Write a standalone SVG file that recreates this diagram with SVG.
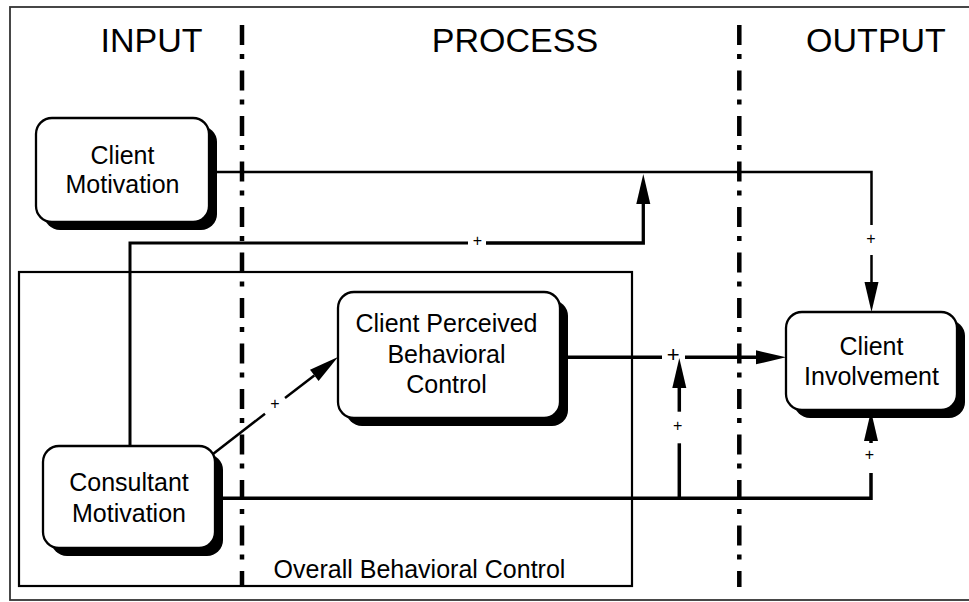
<svg xmlns="http://www.w3.org/2000/svg" width="969" height="602" viewBox="0 0 969 602">
<style>
text{font-family:"Liberation Sans",Arial,sans-serif;fill:#000}
.hd{font-size:34px;text-anchor:middle}
.nt{font-size:25px;text-anchor:middle}
.pl{font-size:16px;text-anchor:middle}
.box{fill:#fff;stroke:#000;stroke-width:2.3}
.shd{fill:#000}
.sep{stroke:#000;stroke-width:4.5;stroke-dasharray:20 9 5 11.5;fill:none}
.ln{fill:none;stroke:#000;stroke-linecap:butt;stroke-linejoin:miter}
</style>
<defs>
<marker id="ah" markerUnits="userSpaceOnUse" markerWidth="30" markerHeight="14" viewBox="0 0 30 14" refX="0" refY="7" orient="auto" overflow="visible">
<path d="M0,0 L30,7 L0,14 z" fill="#000"/>
</marker>
</defs>
<rect x="0" y="0" width="969" height="602" fill="#fff"/>
<rect x="10" y="7" width="975" height="593" fill="none" stroke="#333" stroke-width="1.8"/>
<g id="headings">
<text class="hd" x="151.5" y="52">INPUT</text>
<text class="hd" x="515" y="52">PROCESS</text>
<text class="hd" x="876" y="52">OUTPUT</text>
</g>
<g id="separators">
<line class="sep" x1="242" y1="25" x2="242" y2="587"/>
<line class="sep" x1="739.3" y1="25" x2="739.3" y2="587"/>
</g>
<g id="overall-behavioral-control">
<rect x="19" y="272" width="613" height="314" fill="none" stroke="#000" stroke-width="2.2"/>
<text class="nt" x="419.5" y="578">Overall Behavioral Control</text>
</g>
<g id="connectors">
<path class="ln" stroke-width="2.5" d="M209,172 H871.5 V225"/>
<path class="ln" stroke-width="2.5" d="M871.5,255 V282" marker-end="url(#ah)"/>
<text class="pl" x="871" y="243.6">+</text>
<path class="ln" stroke-width="3" d="M130,446 V243 H468"/>
<path class="ln" stroke-width="3.3" d="M486,243 H643.3 V204" marker-end="url(#ah)"/>
<text class="pl" x="477.3" y="245.6">+</text>
<path class="ln" stroke-width="2.5" d="M213,454 L265,413.7"/>
<path class="ln" stroke-width="2.5" d="M285,398.1 L314.3,375.4" marker-end="url(#ah)"/>
<text class="pl" x="275" y="408.6">+</text>
<path class="ln" stroke-width="3.5" d="M560,357.3 H662"/>
<path class="ln" stroke-width="3.5" d="M685,357.3 H756" marker-end="url(#ah)"/>
<text x="673.3" y="361.5" style="font-size:22px;text-anchor:middle">+</text>
<path class="ln" stroke-width="3.5" d="M215,498.3 H871 V473"/>
<path class="ln" stroke-width="3.5" d="M871,443 V441" marker-end="url(#ah)"/>
<text class="pl" x="869.3" y="459.6">+</text>
<path class="ln" stroke-width="3.5" d="M679.3,498.3 V443.3"/>
<path class="ln" stroke-width="3.5" d="M679.3,411.7 V388" marker-end="url(#ah)"/>
<text class="pl" x="677.7" y="431.3">+</text>
</g>
<g id="client-motivation">
<rect class="shd" x="44" y="126" width="173" height="104" rx="16"/>
<rect class="box" x="36" y="118" width="173" height="104" rx="16"/>
<text class="nt" x="122.5" y="164">Client</text>
<text class="nt" x="122.5" y="193">Motivation</text>
</g>
<g id="consultant-motivation">
<rect class="shd" x="51" y="454" width="172" height="102" rx="16"/>
<rect class="box" x="43" y="446" width="172" height="102" rx="16"/>
<text class="nt" x="129" y="490.7">Consultant</text>
<text class="nt" x="129" y="521.7">Motivation</text>
</g>
<g id="client-perceived-behavioral-control">
<rect class="shd" x="346" y="300" width="222" height="126" rx="16"/>
<rect class="box" x="338" y="292" width="222" height="126" rx="16"/>
<text class="nt" x="446.5" y="332">Client Perceived</text>
<text class="nt" x="446.5" y="362.5">Behavioral</text>
<text class="nt" x="446.5" y="393">Control</text>
</g>
<g id="client-involvement">
<rect class="shd" x="794" y="320" width="171" height="98" rx="16"/>
<rect class="box" x="786" y="312" width="171" height="98" rx="16"/>
<text class="nt" x="871.5" y="355">Client</text>
<text class="nt" x="871.5" y="385">Involvement</text>
</g>
</svg>
